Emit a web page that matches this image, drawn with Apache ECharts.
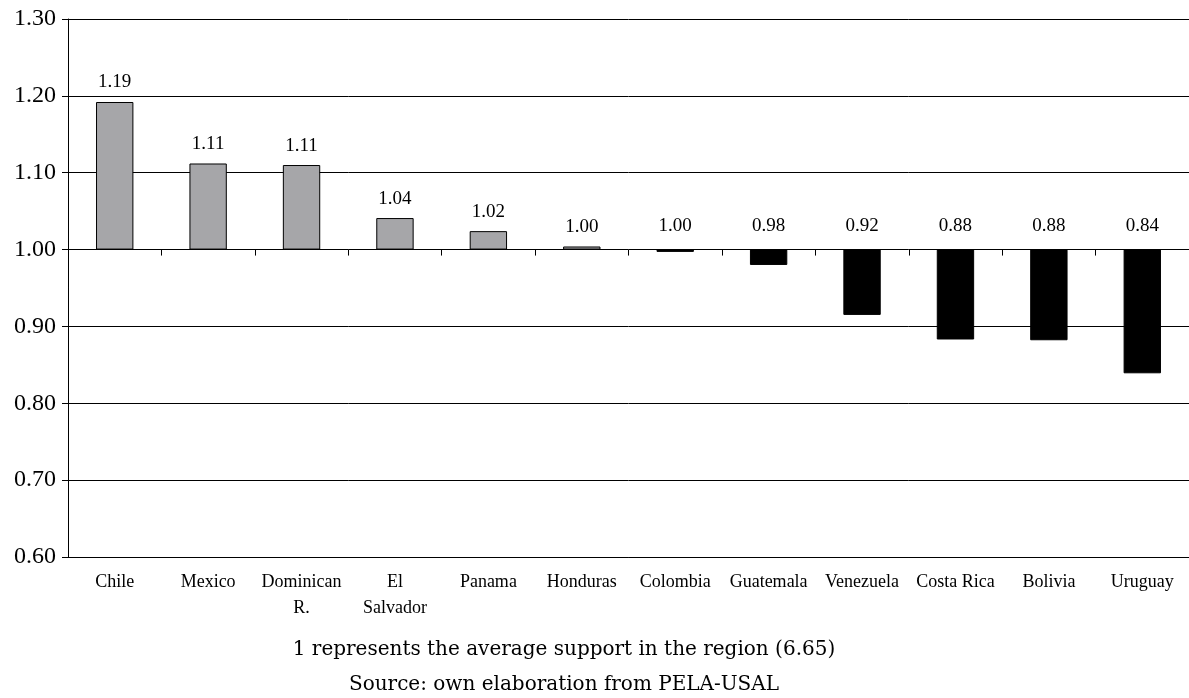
<!DOCTYPE html>
<html>
<head>
<meta charset="utf-8">
<script src="https://cdn.jsdelivr.net/npm/echarts@6/dist/echarts.min.js"></script>
<style>
html,body{margin:0;padding:0;background:#fff;}
#chart{width:1189px;height:698px;}
</style>
</head>
<body>
<div id="chart"></div>
<script>
const categories = ['Chile','Mexico','Dominican\nR.','El\nSalvador','Panama','Honduras','Colombia','Guatemala','Venezuela','Costa Rica','Bolivia','Uruguay'];
const values = [1.192, 1.112, 1.110, 1.041, 1.024, 1.004, 0.997, 0.980, 0.915, 0.883, 0.882, 0.839];
const baseline = 1.0;
const yTicks = { min: 0.6, max: 1.3, interval: 0.1 };
const notes = ['1 represents the average support in the region (6.65)', 'Source: own elaboration from PELA-USAL'];

const FONT = '"Liberation Serif", "DejaVu Serif", serif';
const NOTEFONT = '"DejaVu Serif", serif';
const gridTop = 19, gridBottom = 141, gridLeft = 68, gridRight = 0;
const plotH = 698 - gridTop - gridBottom;
const baseOffset = -plotH * (baseline - yTicks.min) / (yTicks.max - yTicks.min);

const baseData = values.map(v => Math.min(v, baseline));
const diffData = values.map((v, i) => ({
  value: Math.abs(v - baseline),
  itemStyle: { color: v >= baseline ? '#a6a6a9' : '#000000', borderColor: '#000', borderWidth: 1 },
  label: { distance: v >= baseline ? 10 : 14 }
}));

const chart = echarts.init(document.getElementById('chart'));
chart.setOption({
  animation: false,
  backgroundColor: '#fff',
  grid: { left: gridLeft, right: gridRight, top: gridTop, bottom: gridBottom, containLabel: false },
  xAxis: [
    {
      type: 'category', data: categories, position: 'bottom',
      axisLine: { show: true, lineStyle: { color: '#000', width: 1 } },
      axisTick: { show: false },
      axisLabel: { color: '#000', fontFamily: FONT, fontSize: 18, lineHeight: 26, margin: 12, interval: 0 },
      splitLine: { show: false }
    },
    {
      type: 'category', data: categories, position: 'bottom', offset: baseOffset,
      axisLine: { show: false },
      axisTick: { show: true, length: 6, lineStyle: { color: '#000', width: 1 } },
      axisLabel: { show: false },
      splitLine: { show: false }
    }
  ],
  yAxis: {
    type: 'value', min: yTicks.min, max: yTicks.max, interval: yTicks.interval,
    axisLine: { show: true, lineStyle: { color: '#000', width: 1 } },
    axisTick: { show: true, length: 6, lineStyle: { color: '#000' } },
    axisLabel: { color: '#000', fontFamily: FONT, fontSize: 24, margin: 12, formatter: v => v.toFixed(2) },
    splitLine: { show: true, lineStyle: { color: '#000', width: 1 } }
  },
  series: [
    {
      type: 'bar', stack: 'a', data: baseData, barWidth: '40%',
      itemStyle: { color: 'rgba(0,0,0,0)' }, silent: true
    },
    {
      type: 'bar', stack: 'a', data: diffData, barWidth: '40%',
      label: {
        show: true, position: 'top', color: '#000', fontFamily: FONT, fontSize: 19,
        formatter: p => values[p.dataIndex].toFixed(2)
      }
    }
  ],
  graphic: [
    { type: 'text', x: 564, y: 650, style: { text: notes[0], font: '20px ' + NOTEFONT, fill: '#000', align: 'center', verticalAlign: 'middle' } },
    { type: 'text', x: 564, y: 685, style: { text: notes[1], font: '20px ' + NOTEFONT, fill: '#000', align: 'center', verticalAlign: 'middle' } }
  ]
});
</script>
</body>
</html>
